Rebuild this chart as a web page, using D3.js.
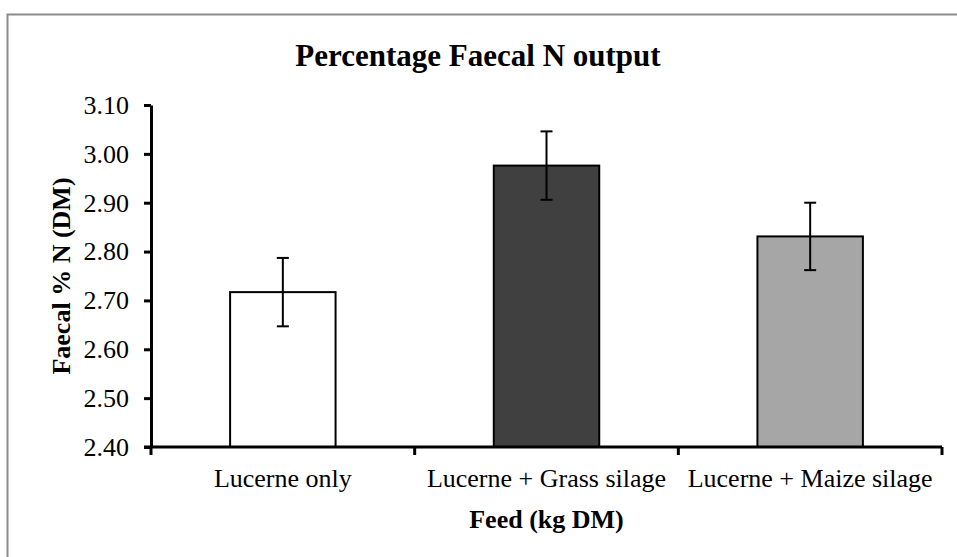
<!DOCTYPE html>
<html>
<head>
<meta charset="utf-8">
<script src="https://cdn.jsdelivr.net/npm/d3@7"></script>
<style>
  html, body { margin: 0; padding: 0; background: #fff; }
  svg { display: block; }
</style>
</head>
<body>
<svg id="chart"></svg>
<script>
const categories = ['Lucerne only', 'Lucerne + Grass silage', 'Lucerne + Maize silage'];
const values = [2.717, 2.976, 2.831];
const errors = [0.07, 0.07, 0.069];
const barColors = ['#ffffff', '#404040', '#a6a6a6'];
const yTicks = [2.40, 2.50, 2.60, 2.70, 2.80, 2.90, 3.00, 3.10];

const width = 957;
const height = 557;
const margin = { top: 105, right: 15, bottom: 110, left: 151 };
const font = '"Liberation Serif", "Times New Roman", serif';

const svg = d3.select('#chart')
  .attr('width', width)
  .attr('height', height);

// chart area frame
svg.append('rect')
  .attr('x', 7.5)
  .attr('y', 14.5)
  .attr('width', width + 20)
  .attr('height', height + 20)
  .attr('fill', '#fff')
  .attr('stroke', '#8c8c8c')
  .attr('stroke-width', 2);

const x = d3.scaleBand()
  .domain(categories)
  .range([margin.left, width - margin.right])
  .paddingInner(0.6)
  .paddingOuter(0.3);

const y = d3.scaleLinear()
  .domain([2.4, 3.1])
  .range([height - margin.bottom, margin.top]);

const g = svg.append('g');

g.selectAll('.bar')
  .data(categories)
  .enter()
  .append('rect')
  .attr('class', 'bar')
  .attr('x', d => x(d))
  .attr('y', (d, i) => y(values[i]))
  .attr('width', x.bandwidth())
  .attr('height', (d, i) => y(2.4) - y(values[i]))
  .attr('fill', (d, i) => barColors[i])
  .attr('stroke', '#000')
  .attr('stroke-width', 2);

// error bars
const capW = 12;
const err = g.selectAll('.err')
  .data(categories)
  .enter()
  .append('g')
  .attr('class', 'err')
  .attr('stroke', '#000')
  .attr('stroke-width', 2);

err.append('line')
  .attr('x1', d => x(d) + x.bandwidth() / 2)
  .attr('x2', d => x(d) + x.bandwidth() / 2)
  .attr('y1', (d, i) => y(values[i] + errors[i]))
  .attr('y2', (d, i) => y(values[i] - errors[i]));
err.append('line')
  .attr('x1', d => x(d) + x.bandwidth() / 2 - capW / 2)
  .attr('x2', d => x(d) + x.bandwidth() / 2 + capW / 2)
  .attr('y1', (d, i) => y(values[i] + errors[i]))
  .attr('y2', (d, i) => y(values[i] + errors[i]));
err.append('line')
  .attr('x1', d => x(d) + x.bandwidth() / 2 - capW / 2)
  .attr('x2', d => x(d) + x.bandwidth() / 2 + capW / 2)
  .attr('y1', (d, i) => y(values[i] - errors[i]))
  .attr('y2', (d, i) => y(values[i] - errors[i]));

// y axis
const yAxis = d3.axisLeft(y)
  .tickValues(yTicks)
  .tickFormat(d3.format('.2f'))
  .tickSize(7)
  .tickPadding(15)
  .tickSizeOuter(0);

const yG = svg.append('g')
  .attr('transform', `translate(${margin.left},0)`)
  .call(yAxis);
yG.select('.domain').attr('stroke', '#000').attr('stroke-width', 3);
yG.selectAll('.tick line').attr('stroke', '#000').attr('stroke-width', 3);
yG.selectAll('.tick text')
  .attr('fill', '#000')
  .attr('font-family', font)
  .attr('font-size', '26px');

// x axis, ticks sit on category boundaries
const xG = svg.append('g')
  .attr('transform', `translate(0,${y(2.4)})`);
xG.append('line')
  .attr('x1', margin.left - 7)
  .attr('x2', width - margin.right)
  .attr('stroke', '#000')
  .attr('stroke-width', 3);
const step = x.step();
const bounds = d3.range(categories.length + 1).map(i => margin.left + i * (width - margin.left - margin.right) / categories.length);
xG.selectAll('.xtick')
  .data(bounds)
  .enter()
  .append('line')
  .attr('x1', d => d)
  .attr('x2', d => d)
  .attr('y1', 0)
  .attr('y2', 8)
  .attr('stroke', '#000')
  .attr('stroke-width', 3);
xG.selectAll('.xlabel')
  .data(categories)
  .enter()
  .append('text')
  .attr('x', d => x(d) + x.bandwidth() / 2)
  .attr('y', 40)
  .attr('text-anchor', 'middle')
  .attr('font-family', font)
  .attr('font-size', '26px')
  .attr('fill', '#000')
  .text(d => d);

// titles
svg.append('text')
  .attr('x', 478)
  .attr('y', 66)
  .attr('text-anchor', 'middle')
  .attr('font-family', font)
  .attr('font-size', '31px')
  .attr('font-weight', 'bold')
  .text('Percentage Faecal N output');

svg.append('text')
  .attr('x', (margin.left + width - margin.right) / 2)
  .attr('y', 528)
  .attr('text-anchor', 'middle')
  .attr('font-family', font)
  .attr('font-size', '26px')
  .attr('font-weight', 'bold')
  .text('Feed (kg DM)');

svg.append('text')
  .attr('transform', `translate(70,${(y(2.4) + y(3.1)) / 2}) rotate(-90)`)
  .attr('text-anchor', 'middle')
  .attr('font-family', font)
  .attr('font-size', '26px')
  .attr('font-weight', 'bold')
  .text('Faecal % N (DM)');
</script>
</body>
</html>
